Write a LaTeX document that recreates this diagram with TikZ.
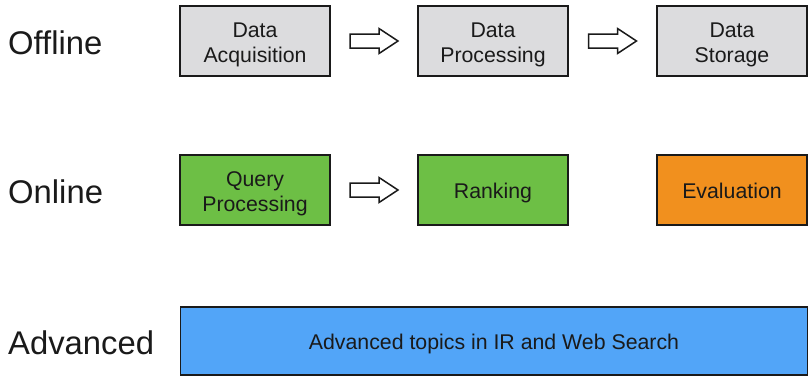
\documentclass[tikz,border=0pt]{standalone}
\usepackage{fontspec}
\setmainfont{Liberation Sans}
\usetikzlibrary{calc}
\definecolor{boxgray}{HTML}{DCDCDE}
\definecolor{boxgreen}{HTML}{6DBF45}
\definecolor{boxorange}{HTML}{F1901E}
\definecolor{boxblue}{HTML}{52A5F8}
\definecolor{txt}{HTML}{1A1A1A}
\newcommand\boxtext[1]{\raisebox{-3.5pt}[\height][\depth]{\begin{tabular}{@{}c@{}}#1\end{tabular}}}
\tikzset{
  stagebox/.style={draw=txt, line width=1.5pt, minimum width=150pt, minimum height=70pt,
    align=center, inner sep=0pt, font=\fontsize{21.3}{25}\selectfont, text=txt},
  rowlabel/.style={anchor=west, inner sep=0pt, font=\fontsize{32.8}{36}\selectfont, text=txt},
}
\newcommand\blockarrow[2]{%
  \draw[line width=1.5pt, draw=txt, fill=white, line join=miter]
    ($(#1.east)!0.5!(#2.west)$) ++(-24,-7) -- ++(29,0) -- ++(0,-5.5) -- ++(19,12.5)
    -- ++(-19,12.5) -- ++(0,-5.5) -- ++(-29,0) -- cycle;}
\begin{document}
\begin{tikzpicture}[x=1pt,y=-1pt]
\useasboundingbox (0,0) rectangle (808,375);
% row labels
\node[rowlabel] (loff) at (8,43) {Offline};
\node[rowlabel] (lon) at (8,192) {Online};
\node[rowlabel] (ladv) at (8,343) {Advanced};
% offline
\node[stagebox, fill=boxgray] (acq) at (255,41) {\boxtext{Data\\Acquisition}};
\node[stagebox, fill=boxgray] (proc) at (493,41) {\boxtext{Data\\Processing}};
\node[stagebox, fill=boxgray] (stor) at (732,41) {\boxtext{Data\\Storage}};
\blockarrow{acq}{proc}
\blockarrow{proc}{stor}
% online
\node[stagebox, fill=boxgreen] (qp) at (255,190) {\boxtext{Query\\Processing}};
\node[stagebox, fill=boxgreen] (rank) at (493,190) {\boxtext{Ranking}};
\node[stagebox, fill=boxorange] (eval) at (732,190) {\boxtext{Evaluation}};
\blockarrow{qp}{rank}
% advanced
\node[stagebox, fill=boxblue, minimum width=627pt, minimum height=68pt] (adv) at (494,341) {\boxtext{Advanced topics in IR and Web Search}};
\end{tikzpicture}
\end{document}
